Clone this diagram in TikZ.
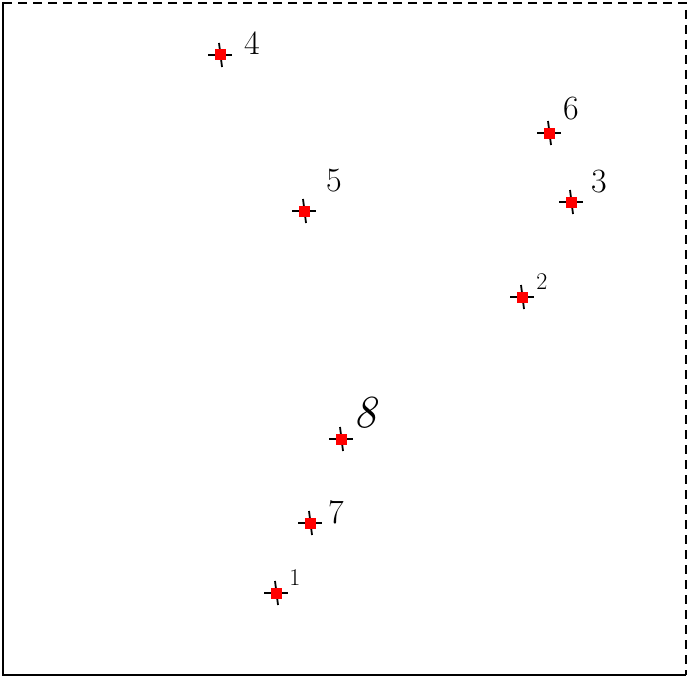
\documentclass[tikz,border=0pt]{standalone}
\begin{document}
\begin{tikzpicture}[x=1pt,y=-1pt,
  pt/.style={fill=red,draw=none,minimum size=11pt,inner sep=0pt,rectangle},
  lbl/.style={font=\fontsize{34}{38}\selectfont,inner sep=0pt},
  lblsm/.style={font=\fontsize{24}{28}\selectfont,inner sep=0pt},
  crs/.style={line width=1.8pt,black}]
\useasboundingbox (0,0) rectangle (688,677);
\fill[white] (0,0) rectangle (688,677);
\draw[line width=1.6pt] (3,2) -- (3,675) -- (686,675);
\draw[line width=1.3pt,dashed,dash pattern=on 9pt off 6pt] (3,3) -- (686,3) -- (686,675);
\foreach \n/\x/\y in {p4/220/55,p6/549/133,p5/304/211,p3/571/202,p2/522/297,p8/341/439,p7/310/523,p1/276/593}{
  \draw[crs] (\x-12,\y) -- (\x+12,\y);
  \draw[crs] (\x-1,\y-12) -- (\x+2,\y+12);
  \node[pt] (\n) at (\x,\y) {};
}
\node[lbl] (l4) at (252,43) {4};
\node[lbl] (l6) at (571,109) {6};
\node[lbl] (l5) at (334,181) {5};
\node[lbl] (l3) at (599,182) {3};
\node[lblsm] (l2) at (542,282) {2};
\node[lbl,font=\itshape\fontsize{46}{50}\selectfont] (l8) at (365,413) {8};
\node[lbl] (l7) at (336,512) {7};
\node[lblsm] (l1) at (295,578) {1};
\end{tikzpicture}
\end{document}
